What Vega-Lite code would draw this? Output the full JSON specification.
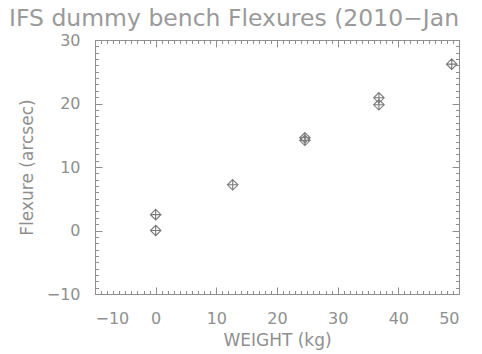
{
  "$schema": "https://vega.github.io/schema/vega-lite/v6.json",
  "width": 364,
  "height": 254,
  "autosize": "none",
  "padding": {"left": 95, "top": 40, "right": 23, "bottom": 60},
  "background": "white",
  "title": {
    "text": "IFS dummy bench Flexures (2010−Jan",
    "anchor": "start",
    "frame": "group",
    "dx": -86,
    "offset": 2,
    "font": "DejaVu Sans",
    "fontSize": 23.5,
    "fontWeight": "normal",
    "color": "#9a9a9a"
  },
  "config": {
    "view": {"stroke": "#8f8f8f", "strokeWidth": 1},
    "axis": {
      "grid": false,
      "domain": false,
      "tickColor": "#8f8f8f",
      "labelColor": "#8f8f8f",
      "titleColor": "#8f8f8f",
      "labelFont": "DejaVu Sans",
      "titleFont": "DejaVu Sans",
      "labelFontSize": 16,
      "titleFontSize": 17,
      "titleFontWeight": "normal"
    }
  },
  "data": {
    "values": [
      {"weight": 0, "flexure": 2.5},
      {"weight": 0, "flexure": 0},
      {"weight": 12.7, "flexure": 7.2},
      {"weight": 24.6, "flexure": 14.6},
      {"weight": 24.6, "flexure": 14.2},
      {"weight": 36.8, "flexure": 20.9},
      {"weight": 36.8, "flexure": 19.8},
      {"weight": 48.8, "flexure": 26.2}
    ]
  },
  "resolve": {"axis": {"x": "independent", "y": "independent"}},
  "layer": [
    {
      "mark": {
        "type": "point",
        "shape": "M0,-1L1,0L0,1L-1,0ZM-1,0L1,0M0,-1L0,1",
        "filled": false,
        "size": 110,
        "stroke": "#7a7a7a",
        "strokeWidth": 1.1,
        "opacity": 1
      },
      "encoding": {
        "x": {
          "field": "weight", "type": "quantitative",
          "scale": {"domain": [-10, 50], "nice": false, "zero": false},
          "axis": {
            "orient": "bottom",
            "values": [-10, 0, 10, 20, 30, 40, 50],
            "tickSize": -7,
            "labelPadding": 23,
            "title": "WEIGHT (kg)",
            "titleY": 46,
            "titleBaseline": "middle"
          }
        },
        "y": {
          "field": "flexure", "type": "quantitative",
          "scale": {"domain": [-10, 30], "nice": false, "zero": false},
          "axis": {
            "orient": "left",
            "values": [-10, 0, 10, 20, 30],
            "tickSize": -7,
            "labelPadding": 22,
            "title": "Flexure (arcsec)",
            "titleX": -68,
            "titleBaseline": "middle"
          }
        }
      }
    },
    {
      "mark": {"type": "point", "opacity": 0},
      "encoding": {
        "x": {
          "field": "weight", "type": "quantitative",
          "axis": {
            "orient": "bottom",
            "values": [-10,-9,-8,-7,-6,-5,-4,-3,-2,-1,0,1,2,3,4,5,6,7,8,9,10,11,12,13,14,15,16,17,18,19,20,21,22,23,24,25,26,27,28,29,30,31,32,33,34,35,36,37,38,39,40,41,42,43,44,45,46,47,48,49,50],
            "tickSize": -3.5,
            "labels": false,
            "title": null
          }
        },
        "y": {
          "field": "flexure", "type": "quantitative",
          "axis": {
            "orient": "left",
            "values": [-10,-9,-8,-7,-6,-5,-4,-3,-2,-1,0,1,2,3,4,5,6,7,8,9,10,11,12,13,14,15,16,17,18,19,20,21,22,23,24,25,26,27,28,29,30],
            "tickSize": -3.5,
            "labels": false,
            "title": null
          }
        }
      }
    },
    {
      "mark": {"type": "point", "opacity": 0},
      "encoding": {
        "x": {
          "field": "weight", "type": "quantitative",
          "axis": {
            "orient": "top",
            "values": [-10, 0, 10, 20, 30, 40, 50],
            "tickSize": -7,
            "labels": false,
            "title": null
          }
        },
        "y": {
          "field": "flexure", "type": "quantitative",
          "axis": {
            "orient": "right",
            "values": [-10, 0, 10, 20, 30],
            "tickSize": -7,
            "labels": false,
            "title": null
          }
        }
      }
    },
    {
      "mark": {"type": "point", "opacity": 0},
      "encoding": {
        "x": {
          "field": "weight", "type": "quantitative",
          "axis": {
            "orient": "top",
            "values": [-10,-9,-8,-7,-6,-5,-4,-3,-2,-1,0,1,2,3,4,5,6,7,8,9,10,11,12,13,14,15,16,17,18,19,20,21,22,23,24,25,26,27,28,29,30,31,32,33,34,35,36,37,38,39,40,41,42,43,44,45,46,47,48,49,50],
            "tickSize": -3.5,
            "labels": false,
            "title": null
          }
        },
        "y": {
          "field": "flexure", "type": "quantitative",
          "axis": {
            "orient": "right",
            "values": [-10,-9,-8,-7,-6,-5,-4,-3,-2,-1,0,1,2,3,4,5,6,7,8,9,10,11,12,13,14,15,16,17,18,19,20,21,22,23,24,25,26,27,28,29,30],
            "tickSize": -3.5,
            "labels": false,
            "title": null
          }
        }
      }
    }
  ]
}
